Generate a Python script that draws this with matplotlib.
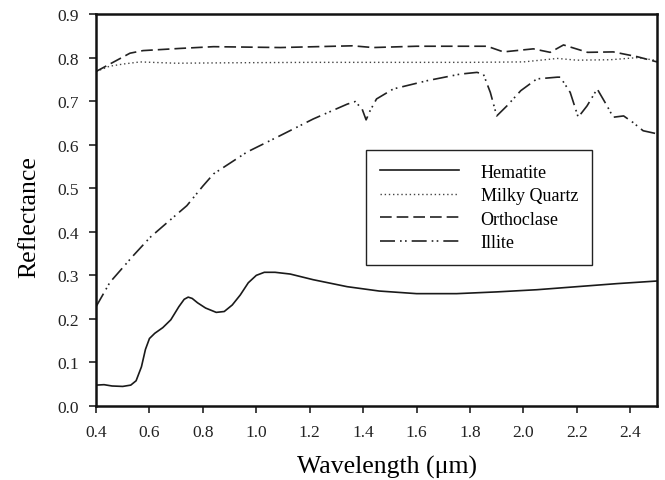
import matplotlib
matplotlib.use("Agg")
import matplotlib.pyplot as plt
from matplotlib.ticker import FormatStrFormatter

# values (wavelength in um, reflectance)
hem_wl = [0.40, 0.43, 0.46, 0.50, 0.53, 0.55, 0.57, 0.585, 0.60, 0.62, 0.65,
          0.68, 0.71, 0.73, 0.745, 0.76, 0.78, 0.81, 0.85, 0.88, 0.91, 0.94,
          0.97, 1.00, 1.03, 1.07, 1.127, 1.213, 1.34, 1.46, 1.6, 1.75, 1.9,
          2.05, 2.2, 2.35, 2.5]
hem_r = [0.048, 0.049, 0.046, 0.045, 0.048, 0.058, 0.090, 0.130, 0.155, 0.167,
         0.180, 0.198, 0.228, 0.245, 0.250, 0.247, 0.237, 0.225, 0.215, 0.217,
         0.232, 0.255, 0.283, 0.300, 0.307, 0.307, 0.303, 0.290, 0.274, 0.264,
         0.258, 0.258, 0.262, 0.267, 0.274, 0.281, 0.287]

qtz_wl = [0.40, 0.45, 0.50, 0.565, 0.7, 0.9, 1.2, 1.5, 1.8, 2.0, 2.127, 2.2,
          2.325, 2.43, 2.5]
qtz_r = [0.768, 0.780, 0.785, 0.790, 0.787, 0.788, 0.789, 0.789, 0.789, 0.790,
         0.798, 0.794, 0.795, 0.800, 0.793]

ort_wl = [0.40, 0.527, 0.576, 0.715, 0.84, 1.09, 1.36, 1.437, 1.6, 1.864,
          1.925, 2.037, 2.10, 2.15, 2.24, 2.336, 2.426, 2.5]
ort_r = [0.768, 0.810, 0.816, 0.821, 0.825, 0.823, 0.827, 0.823, 0.826, 0.826,
         0.813, 0.820, 0.812, 0.829, 0.812, 0.813, 0.802, 0.790]

ill_wl = [0.40, 0.452, 0.539, 0.602, 0.666, 0.74, 0.80, 0.84, 0.9, 0.965,
          1.09, 1.213, 1.34, 1.37, 1.396, 1.411, 1.426, 1.45, 1.513, 1.64,
          1.763, 1.826, 1.85, 1.876, 1.90, 1.938, 1.99, 2.05, 2.127, 2.138,
          2.175, 2.205, 2.238, 2.276, 2.313, 2.336, 2.375, 2.41, 2.448, 2.5]
ill_r = [0.228, 0.284, 0.345, 0.387, 0.421, 0.460, 0.505, 0.533, 0.557, 0.583,
         0.621, 0.659, 0.693, 0.699, 0.682, 0.657, 0.678, 0.705, 0.728, 0.747,
         0.762, 0.766, 0.762, 0.720, 0.666, 0.689, 0.724, 0.751, 0.755, 0.755,
         0.720, 0.663, 0.689, 0.728, 0.689, 0.663, 0.666, 0.651, 0.632, 0.625]

x_ticks = [0.4, 0.6, 0.8, 1.0, 1.2, 1.4, 1.6, 1.8, 2.0, 2.2, 2.4]
y_ticks = [0.0, 0.1, 0.2, 0.3, 0.4, 0.5, 0.6, 0.7, 0.8, 0.9]

plt.rcParams['font.family'] = ['Liberation Serif', 'DejaVu Serif']

fig = plt.figure(figsize=(6.65, 4.81), dpi=100)
ax = fig.add_axes([0.1444, 0.1538, 0.8436, 0.815])

ax.plot(hem_wl, hem_r, color='#1a1a1a', lw=1.2, ls='-', label='Hematite')
ax.plot(qtz_wl, qtz_r, color='#444444', lw=1.0, ls=(0, (1, 2)),
        label='Milky Quartz')
ax.plot(ort_wl, ort_r, color='#222222', lw=1.2, ls=(0, (7, 3)),
        label='Orthoclase')
ax.plot(ill_wl, ill_r, color='#222222', lw=1.2,
        ls=(0, (9, 3, 1, 2, 1, 3)), label='Illite')

ax.set_xlim(0.4, 2.5)
ax.set_ylim(0.0, 0.9)
ax.set_xticks(x_ticks)
ax.set_yticks(y_ticks)
ax.xaxis.set_major_formatter(FormatStrFormatter('%.1f'))
ax.yaxis.set_major_formatter(FormatStrFormatter('%.1f'))
ax.tick_params(direction='out', length=5, width=1.2, labelsize=12.5,
               colors='#222222')
ax.tick_params(axis='x', pad=8)
ax.tick_params(axis='y', pad=7)
for s in ax.spines.values():
    s.set_linewidth(1.8)
    s.set_color('#111111')

ax.set_xlabel('Wavelength (\u03bcm)', fontsize=18.5)
ax.set_ylabel('Reflectance', fontsize=18.5)
# the reference places both titles a little off the axis centre
ax.xaxis.set_label_coords(0.518, -0.125)
ax.yaxis.set_label_coords(-0.100, 0.485)

leg = ax.legend(loc='upper left', bbox_to_anchor=(0.4813, 0.653),
                borderaxespad=0, fontsize=13, handlelength=4.4,
                handletextpad=1.2, labelspacing=0.36, borderpad=0.75,
                fancybox=False, framealpha=1, edgecolor='#222222')
leg.get_frame().set_linewidth(1.0)

fig.savefig('out.png', dpi=100)
